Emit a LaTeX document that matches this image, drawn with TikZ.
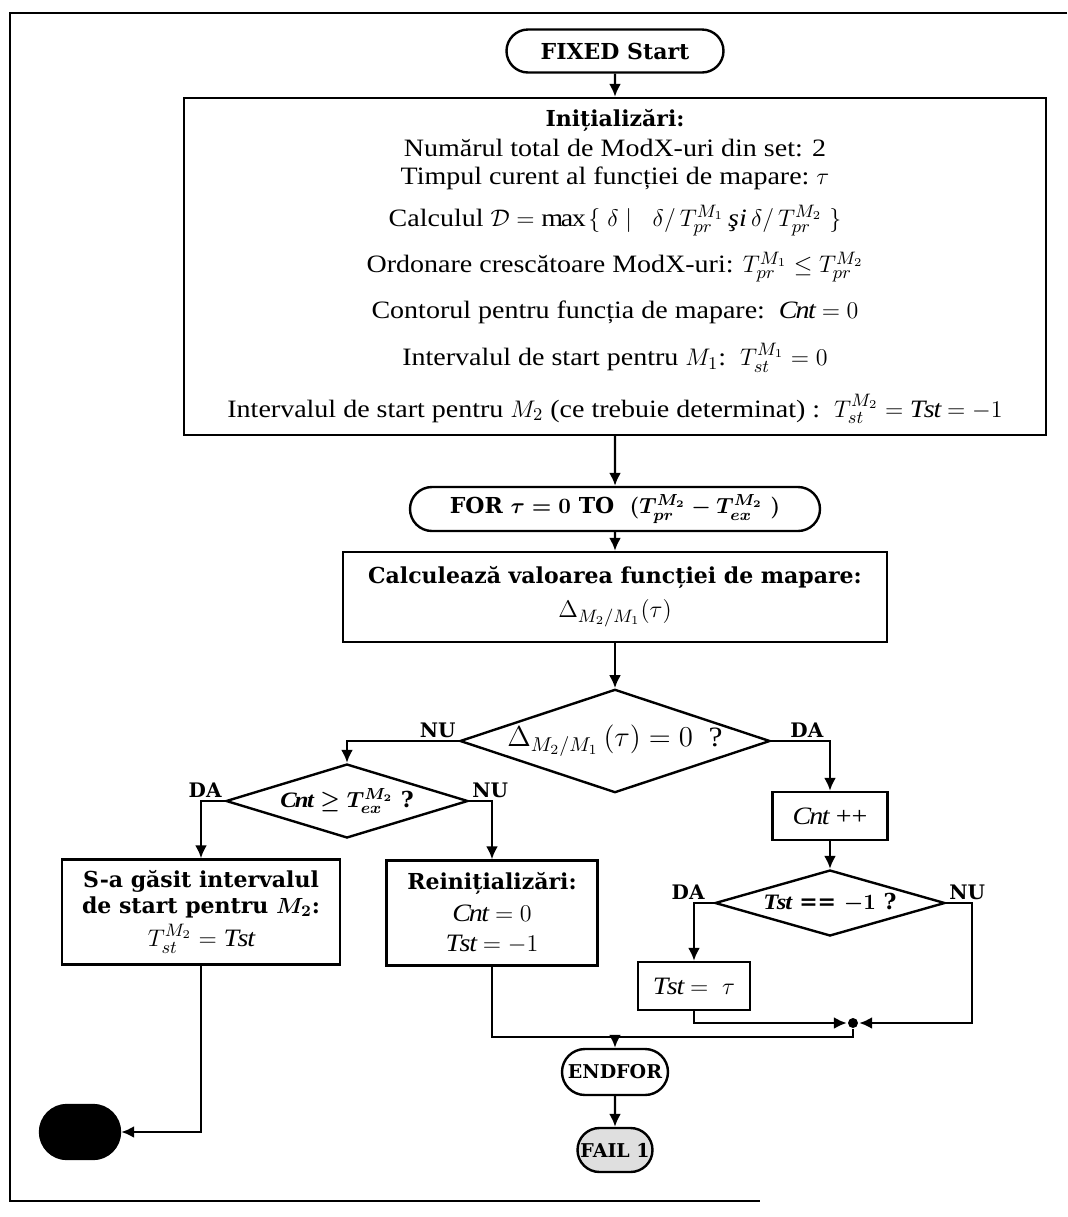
\documentclass[tikz,border=0pt]{standalone}
\usepackage{amsmath,amssymb}
\usepackage{fontspec}
\setmainfont{Liberation Serif}[FakeStretch=1.12]
\newfontfamily\bkfont{DejaVu Serif}
\usetikzlibrary{positioning,shapes.geometric,shapes.misc,arrows.meta}

\newcommand{\hdfont}{\bkfont\bfseries\fontsize{11}{13}\selectfont}
\newcommand{\txfont}{\fontsize{12.5}{13}\selectfont}
\newcommand{\Cnt}{\mathit{Cnt}}
\newcommand{\Tst}{\mathit{Tst}}

\begin{document}
\begin{tikzpicture}[>={Latex[length=6.5pt,width=6pt]},x=0.5pt,y=-0.5pt,line width=1.2pt,
    term/.style={draw,rounded rectangle,inner sep=0pt,font=\hdfont},
    proc/.style={draw,inner sep=0pt,align=center,font=\txfont},
    cond/.style={draw,diamond,inner sep=0pt,font=\txfont},
    lbl/.style={font=\bkfont\bfseries\fontsize{10}{11}\selectfont,inner sep=1pt}]
  \useasboundingbox (0,0) rectangle (1067,1217);
  \draw (1067,13) -- (10,13) -- (10,1201) -- (760,1201);

  % main column
  \node[term,minimum width=108.5pt,minimum height=21.5pt] (start) at (615,51) {FIXED Start};
  \node[proc,minimum width=431pt,minimum height=168.5pt] (init) at (615,266.5)
    {{\hdfont Inițializări:}\\[2pt]
     Numărul total de ModX-uri din set: 2\\[1pt]
     Timpul curent al funcției de mapare:\ $\tau$\\[7pt]
     Calculul $\mathcal{D} = \max\,\{\ \delta \mid\ \ \delta/\,T_{pr}^{M_1}$\,\textit{şi}\,$\delta/\,T_{pr}^{M_2}\ \}$\\[7pt]
     Ordonare crescătoare ModX-uri: $T_{pr}^{M_1} \le T_{pr}^{M_2}$\\[8.5pt]
     Contorul pentru funcția de mapare:\ \ $\Cnt = 0$\\[8.5pt]
     Intervalul de start pentru $M_1$:\ \ $T_{st}^{M_1} = 0$\\[10pt]
     Intervalul de start pentru $M_2$ (ce trebuie determinat) :\ \ $T_{st}^{M_2} = \Tst = -1$};
  \node[term,minimum width=205pt,minimum height=22pt] (loop) at (615,509)
    {{\boldmath FOR $\tau = 0$ TO\ \ $(T_{pr}^{M_2} - T_{ex}^{M_2}\ )$}};
  \node[proc,minimum width=272pt,minimum height=45pt] (calc) at (615,597)
    {{\hdfont Calculează valoarea funcției de mapare:}\\[4pt] $\Delta_{M_2/M_1}(\tau)$};
  \node[cond,font=\fontsize{14}{14}\selectfont,aspect=3,minimum width=150pt,minimum height=48.5pt] (d1) at (615,741)
    {$\Delta_{M_2/M_1}\left(\tau\right) = 0$\ \ ?};

  % left branch
  \node[cond,font=\hdfont,aspect=3.3,minimum width=121pt,minimum height=37pt] (d2) at (347,801)
    {{\boldmath$\Cnt \ge T_{ex}^{M_2}$} ?};
  \node[proc,minimum width=139pt,minimum height=52.5pt] (found) at (201,912)
    {{\hdfont S-a găsit intervalul}\\{\hdfont de start pentru {\boldmath$M_2$}:}\\[2pt]$T_{st}^{M_2} = \Tst$};
  \node[proc,minimum width=105.5pt,minimum height=52.5pt] (reinit) at (492,913)
    {{\hdfont Reinițializări:}\\[3pt]$\Cnt = 0$\\[2pt]$\Tst = -1$};
  \node[term,fill=black,minimum width=40pt,minimum height=27pt] (stop) at (80,1132) {};

  % right branch
  \node[proc,minimum width=57.5pt,minimum height=24pt] (cnt) at (830,816) {$\Cnt$ ++};
  \node[cond,font=\hdfont,aspect=3.5,minimum width=115pt,minimum height=33pt] (d3) at (830,903)
    {{\boldmath$\Tst$ == $-1$}\ ?};
  \node[proc,minimum width=56pt,minimum height=24pt] (tst) at (694,986) {$\Tst = \ \tau$};
  \node[circle,fill,inner sep=0pt,minimum size=5pt] (mrg) at (853,1023) {};
  \coordinate (join) at (615,1037);

  \node[term,font=\bkfont\bfseries\fontsize{9.5}{11}\selectfont,minimum width=53pt,minimum height=23pt] (endfor) at (615,1072) {ENDFOR};
  \node[term,font=\bkfont\bfseries\fontsize{9.5}{11}\selectfont,fill=gray!25,minimum width=37.5pt,minimum height=22pt] (fail) at (615,1150) {FAIL 1};

  % connectors
  \draw[->] (start) -- (init);
  \draw[->] (init) -- (loop);
  \draw[->] (loop) -- (calc);
  \draw[->] (calc) -- (d1);
  \draw[->] (d1.west) node[lbl,above left] {NU} -| (d2.north);
  \draw[->] (d1.east) node[lbl,above right=0pt and 8pt] {DA} -| (cnt.north);
  \draw[->] (d2.west) node[lbl,above left] {DA} -| (found.north);
  \draw[->] (d2.east) node[lbl,above right] {NU} -| (reinit.north);
  \draw[->] (found.south) |- (stop);
  \draw[->] (cnt) -- (d3);
  \draw[->] (d3.west) node[lbl,above left=0pt and 3pt] {DA} -| (tst.north);
  \draw[->] (d3.east) node[lbl,above right] {NU} -- ++(26,0) |- (mrg);
  \draw[->] (tst.south) |- (mrg);
  \draw (mrg.south) |- (join);
  \draw (reinit.south) |- (join);
  \draw[->] (join) -- (endfor);
  \draw[->] (endfor) -- (fail);
\end{tikzpicture}
\end{document}
